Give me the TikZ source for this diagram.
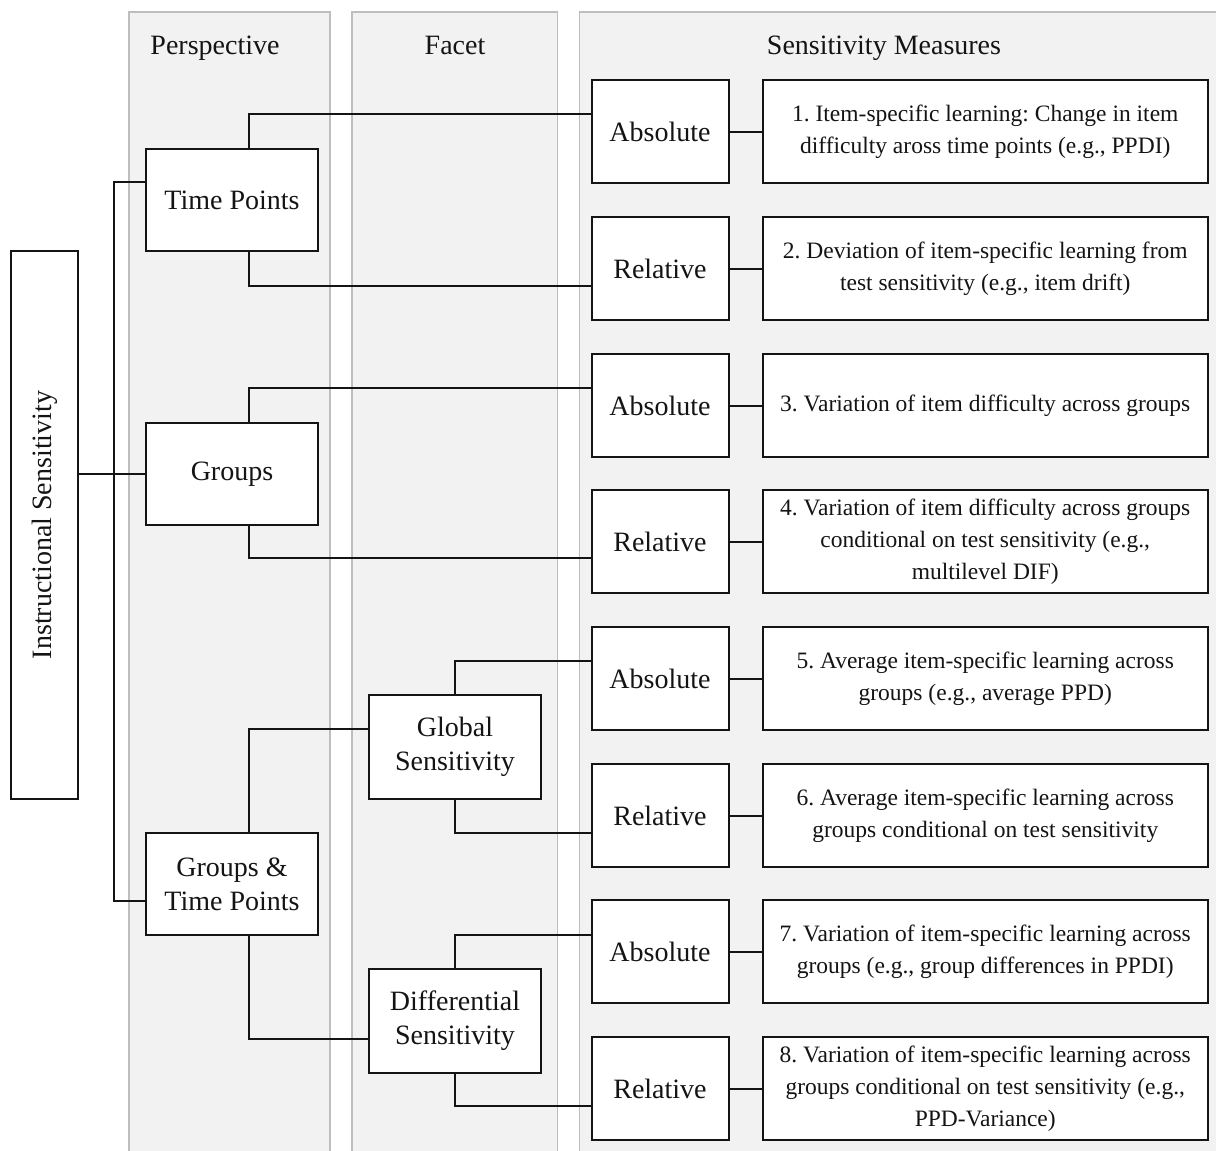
\documentclass[tikz,border=0pt]{standalone}
\usepackage{fontspec}
\setmainfont{Liberation Serif}
\usetikzlibrary{calc}
\definecolor{colfill}{HTML}{F2F2F2}
\definecolor{colline}{HTML}{BEBEBE}
\definecolor{ink}{HTML}{141414}
\frenchspacing

\begin{document}
\begin{tikzpicture}[x=1pt,y=-1pt,
  lane/.style={fill=colfill,draw=colline,line width=1.4pt},
  head/.style={font=\fontsize{28}{34}\selectfont,text=ink,anchor=base,inner sep=0pt},
  box/.style={draw=ink,fill=white,line width=2pt,inner sep=0pt,align=center,
    text=ink,font=\fontsize{28}{34}\selectfont},
  persp/.style={box,minimum width=172pt,minimum height=102pt},
  facetbox/.style={box,minimum width=172pt,minimum height=104pt},
  kind/.style={box,minimum width=137pt,minimum height=103pt},
  measure/.style={box,minimum width=445pt,minimum height=103pt,
    font=\fontsize{23.5}{32}\selectfont},
  link/.style={draw=ink,line width=2pt}
]
\useasboundingbox (0,0) rectangle (1216,1151);
\clip (0,0) rectangle (1216,1151);

% column lanes
\draw[lane] (129,12) rectangle (330,1170);
\draw[lane] (352,12) rectangle (557.5,1170);
\draw[lane] (579.5,12) rectangle (1240,1170);

% column headings
\node[head] (hP) at (215,54) {Perspective};
\node[head] (hF) at (455,54) {Facet};
\node[head] (hM) at (884,54) {Sensitivity Measures};

% root
\node[box,minimum width=67pt,minimum height=548pt] (is) at (44.5,525)
  {\rotatebox{90}{Instructional Sensitivity}};

% perspectives
\node[persp] (tp)  at (232,200) {Time Points};
\node[persp] (grp) at (232,474) {Groups};
\node[persp] (gtp) at (232,884) {Groups \&\\Time Points};

% facets
\node[facetbox] (glob) at (455,747) {Global\\Sensitivity};
\node[facetbox] (diff) at (455,1020.5) {Differential\\Sensitivity};

% absolute / relative
\node[kind] (a1) at (660,131.5) {Absolute};
\node[kind] (r1) at (660,268.5) {Relative};
\node[kind] (a2) at (660,405.5) {Absolute};
\node[kind] (r2) at (660,541.5) {Relative};
\node[kind] (a3) at (660,678.5) {Absolute};
\node[kind] (r3) at (660,815.5) {Relative};
\node[kind] (a4) at (660,951.5) {Absolute};
\node[kind] (r4) at (660,1088.5) {Relative};

% measures
\node[measure] (m1) at (985.25,131.5) {1. Item-specific learning: Change in item\\difficulty aross time points (e.g., PPDI)};
\node[measure] (m2) at (985.25,268.5) {2. Deviation of item-specific learning from\\test sensitivity (e.g., item drift)};
\node[measure] (m3) at (985.25,405.5) {3. Variation of item difficulty across groups};
\node[measure] (m4) at (985.25,541.5) {4. Variation of item difficulty across groups\\conditional on test sensitivity (e.g.,\\multilevel DIF)};
\node[measure] (m5) at (985.25,678.5) {5. Average item-specific learning across\\groups (e.g., average PPD)};
\node[measure] (m6) at (985.25,815.5) {6. Average item-specific learning across\\groups conditional on test sensitivity};
\node[measure] (m7) at (985.25,951.5) {7. Variation of item-specific learning across\\groups (e.g., group differences in PPDI)};
\node[measure] (m8) at (985.25,1088.5) {8. Variation of item-specific learning across\\groups conditional on test sensitivity (e.g.,\\PPD-Variance)};

% entry points on the left sides
\coordinate (tpIn)  at ($(tp.north west)!0.33!(tp.south west)$);
\coordinate (gtpIn) at ($(gtp.north west)!0.66!(gtp.south west)$);
\coordinate (globIn) at ($(glob.north west)!0.33!(glob.south west)$);
\coordinate (diffIn) at ($(diff.north west)!0.67!(diff.south west)$);
\coordinate (a1In) at ($(a1.north west)!0.33!(a1.south west)$);
\coordinate (a2In) at ($(a2.north west)!0.33!(a2.south west)$);
\coordinate (a3In) at ($(a3.north west)!0.33!(a3.south west)$);
\coordinate (a4In) at ($(a4.north west)!0.34!(a4.south west)$);
\coordinate (r1In) at ($(r1.north west)!0.67!(r1.south west)$);
\coordinate (r2In) at ($(r2.north west)!0.66!(r2.south west)$);
\coordinate (r3In) at ($(r3.north west)!0.67!(r3.south west)$);
\coordinate (r4In) at ($(r4.north west)!0.67!(r4.south west)$);

% root to perspectives
\draw[link] (is.east |- grp.west) -- (grp.west);
\draw[link] (tpIn) -- ++(-31.5,0) |- (gtpIn);

% perspectives to kinds / facets
\draw[link] ([xshift=17pt]tp.north)  |- (a1In);
\draw[link] ([xshift=17pt]tp.south)  |- (r1In);
\draw[link] ([xshift=17pt]grp.north) |- (a2In);
\draw[link] ([xshift=17pt]grp.south) |- (r2In);
\draw[link] ([xshift=17pt]gtp.north) |- (globIn);
\draw[link] ([xshift=17pt]gtp.south) |- (diffIn);

% facets to kinds
\draw[link] (glob.north) |- (a3In);
\draw[link] (glob.south) |- (r3In);
\draw[link] (diff.north) |- (a4In);
\draw[link] (diff.south) |- (r4In);

% kinds to measures
\foreach \k/\m in {a1/m1,r1/m2,a2/m3,r2/m4,a3/m5,r3/m6,a4/m7,r4/m8}{
  \draw[link] (\k.east) -- (\m.west);
}
\end{tikzpicture}
\end{document}
